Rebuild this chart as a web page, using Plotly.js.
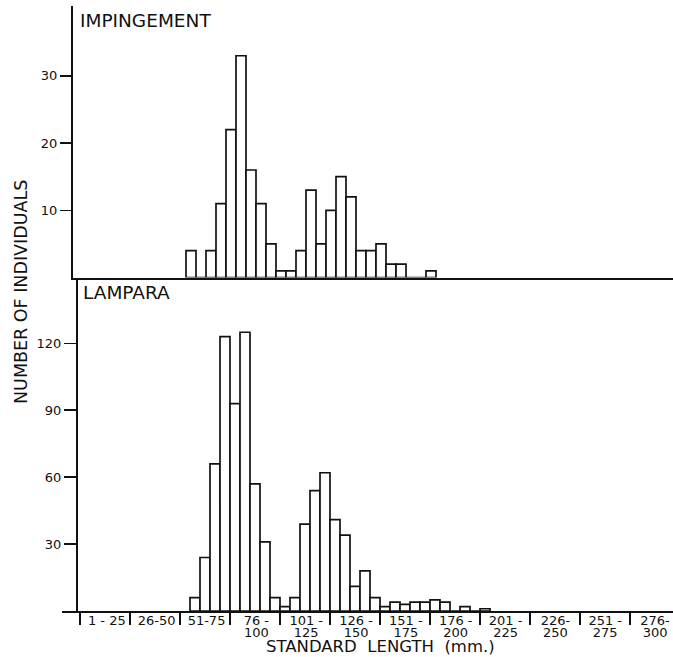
<!DOCTYPE html>
<html><head><meta charset="utf-8">
<script src="https://cdn.plot.ly/plotly-3.0.1.min.js"></script>
<style>html,body{margin:0;padding:0;background:#fff}#chart{width:673px;height:657px}</style>
</head><body><div id="chart"></div>
<script>
// 5-mm bins: lower bound (mm) of each bin
const impingementBinLow = [56,61,66,71,76,81,86,91,96,101,106,111,116,121,126,131,136,141,146,151,156,161,166,171,176];
const impingementCounts = [4,0,4,11,22,33,16,11,5,1,1,4,13,5,10,15,12,4,4,5,2,2,0,0,1];
const lamparaBinLow = [56,61,66,71,76,81,86,91,96,101,106,111,116,121,126,131,136,141,146,151,156,161,166,171,176,181,186,191,196,201];
const lamparaCounts = [6,24,66,123,93,125,57,31,6,2,6,39,54,62,41,34,11,18,6,2,4,3,4,4,5,4,0,2,0,1];
// 25-mm length classes
const classLow = [1,26,51,76,101,126,151,176,201,226,251,276];
const classLabelTop = ["1 - 25","26-50","51-75","76 -","101 -","126 -","151 -","176 -","201 -","226-","251 -","276-"];
const classLabelBottom = ["","","","100","125","150","175","200","225","250","275","300"];
const impTicks = [10,20,30];
const lamTicks = [30,60,90,120];

const W = 673, H = 657;
const px = v => v / W;
const py = v => 1 - v / H;
const ink = '#111';
const binW = 5;
const centers = a => a.map(v => v + (binW - 1) / 2);
const boundaries = classLow.map(v => v - 0.5);
const mids = classLow.map(v => v + 12);

const barStyle = {color: '#fff', line: {color: ink, width: 1.7}};
const traces = [
  {type: 'bar', x: centers(lamparaBinLow), y: lamparaCounts, width: binW, marker: barStyle, xaxis: 'x', yaxis: 'y', hoverinfo: 'x+y'},
  {type: 'bar', x: centers(impingementBinLow), y: impingementCounts, width: binW, marker: barStyle, xaxis: 'x2', yaxis: 'y2', hoverinfo: 'x+y'},
  {type: 'scatter', x: mids, y: mids.map(() => 0), mode: 'none', xaxis: 'x3', yaxis: 'y', hoverinfo: 'skip'},
  {type: 'scatter', x: mids, y: mids.map(() => 0), mode: 'none', xaxis: 'x4', yaxis: 'y', hoverinfo: 'skip'}
];

const labelAxis = (text, standoff) => ({overlaying: 'x', anchor: 'y', range: [-9.5, 297], side: 'bottom',
  tickmode: 'array', tickvals: mids, ticktext: text, ticks: '', ticklabelstandoff: standoff,
  tickfont: {size: 13, color: ink}, showline: false, showgrid: false, zeroline: false, fixedrange: true});

const layout = {
  width: W, height: H,
  margin: {l: 0, r: 0, t: 0, b: 0},
  paper_bgcolor: '#fff', plot_bgcolor: 'rgba(0,0,0,0)',
  showlegend: false, bargap: 0,
  font: {family: 'DejaVu Sans', color: ink},
  xaxis: {domain: [px(62), 1], range: [-8.5, 297], anchor: 'y',
    tickmode: 'array', tickvals: boundaries, ticktext: boundaries.map(() => ''),
    ticks: 'outside', ticklen: 12, tickwidth: 1.5, tickcolor: ink,
    showline: true, linewidth: 2, linecolor: ink, showgrid: false, zeroline: false, fixedrange: true},
  xaxis3: labelAxis(classLabelTop, 0),
  xaxis4: labelAxis(classLabelBottom, 12),
  xaxis2: {domain: [px(73), 1], range: [-1, 299], anchor: 'y2',
    showticklabels: false, ticks: '', showline: true, linewidth: 2, linecolor: ink,
    showgrid: false, zeroline: false, fixedrange: true},
  yaxis: {domain: [py(611), py(277.5)], range: [0, (611 - 277.5) / 2.23], anchor: 'free', position: px(77),
    tickmode: 'array', tickvals: lamTicks, ticks: 'outside', ticklen: 12, tickwidth: 1.6, tickcolor: ink,
    tickfont: {size: 13, color: ink}, showline: true, linewidth: 2, linecolor: ink,
    showgrid: false, zeroline: false, fixedrange: true},
  yaxis2: {domain: [py(277.5), py(6)], range: [0, (277.5 - 6) / 6.72], anchor: 'x2',
    tickmode: 'array', tickvals: impTicks, ticks: 'outside', ticklen: 11, tickwidth: 1.6, tickcolor: ink,
    tickfont: {size: 13, color: ink}, showline: true, linewidth: 2, linecolor: ink,
    showgrid: false, zeroline: false, fixedrange: true},
  annotations: [
    {text: 'IMPINGEMENT', xref: 'paper', yref: 'paper', x: px(78), y: py(20), xanchor: 'left', yanchor: 'middle', showarrow: false, font: {size: 18.5, color: ink}},
    {text: 'LAMPARA', xref: 'paper', yref: 'paper', x: px(81), y: py(292), xanchor: 'left', yanchor: 'middle', showarrow: false, font: {size: 18.5, color: ink}},
    {text: 'NUMBER OF INDIVIDUALS', xref: 'paper', yref: 'paper', x: px(21), y: py(292), xanchor: 'center', yanchor: 'middle', textangle: -90, showarrow: false, font: {size: 17.5, color: ink}},
    {text: 'STANDARD  LENGTH  (mm.)', xref: 'paper', yref: 'paper', x: px(380), y: py(646), xanchor: 'center', yanchor: 'middle', showarrow: false, font: {size: 16.5, color: ink}}
  ]
};
Plotly.newPlot('chart', traces, layout, {displayModeBar: false, staticPlot: true});
</script></body></html>
